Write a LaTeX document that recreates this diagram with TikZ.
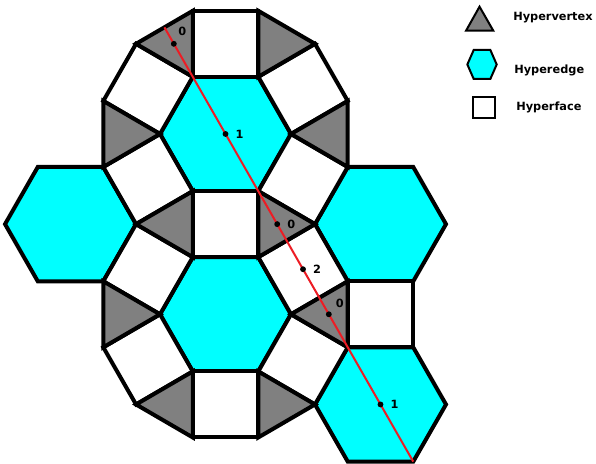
\documentclass[tikz,border=0pt]{standalone}
\usepackage{fontspec}
\setsansfont{DejaVu Sans}
\usepackage{tikz}
\usepackage{xcolor}
\definecolor{edgecyan}{RGB}{0, 255, 255}
\definecolor{vertexgray}{RGB}{128, 128, 128}
\definecolor{pathred}{RGB}{237, 28, 36}

\begin{document}
\begin{tikzpicture}[x=49.125pt, y=49.5pt,
    tile/.style={draw=black, line width=3pt},
    hyperedge/.style={tile, fill=edgecyan},
    hyperface/.style={tile, fill=white},
    hypervertex/.style={tile, fill=vertexgray},
    legendshape/.style={draw=black, line width=1.5pt},
    legendtext/.style={font=\sffamily\bfseries\fontsize{8.5}{10}\selectfont, anchor=base west, inner sep=0pt},
    pathdot/.style={circle, fill=black, inner sep=0pt, minimum size=4.4pt},
    numlabel/.style={font=\sffamily\bfseries\fontsize{8.5}{10}\selectfont, inner sep=1pt}]

  \useasboundingbox (-3.443, 2.030) rectangle (5.656, -5.0);

  % Hexagons (hyperedges)
  \foreach \cx/\cy in {0/0, 0/-2.732, -2.366/-1.366, 2.366/-1.366, 2.366/-4.098}
    \draw[hyperedge, shift={(\cx,\cy)}] (0:1) -- (60:1) -- (120:1) -- (180:1) -- (240:1) -- (300:1) -- cycle;

  % Squares (hyperfaces)
  \draw[hyperface] (-0.5, 0.866) -- (0.5, 0.866) -- (0.5, 1.866) -- (-0.5, 1.866) -- cycle;
  \draw[hyperface] (-1, 0) -- (-0.5, 0.866) -- (-1.366, 1.366) -- (-1.866, 0.5) -- cycle;
  \draw[hyperface] (1, 0) -- (0.5, 0.866) -- (1.366, 1.366) -- (1.866, 0.5) -- cycle;
  \draw[hyperface] (-1, 0) -- (-0.5, -0.866) -- (-1.366, -1.366) -- (-1.866, -0.5) -- cycle;
  \draw[hyperface] (1, 0) -- (0.5, -0.866) -- (1.366, -1.366) -- (1.866, -0.5) -- cycle;
  \draw[hyperface] (-0.5, -0.866) -- (0.5, -0.866) -- (0.5, -1.866) -- (-0.5, -1.866) -- cycle;
  \draw[hyperface] (-0.5, -1.866) -- (-1, -2.732) -- (-1.866, -2.232) -- (-1.366, -1.366) -- cycle;
  \draw[hyperface] (0.5, -1.866) -- (1, -2.732) -- (1.866, -2.232) -- (1.366, -1.366) -- cycle;
  \draw[hyperface] (-1, -2.732) -- (-0.5, -3.598) -- (-1.366, -4.098) -- (-1.866, -3.232) -- cycle;
  \draw[hyperface] (1, -2.732) -- (0.5, -3.598) -- (1.366, -4.098) -- (1.866, -3.232) -- cycle;
  \draw[hyperface] (-0.5, -3.598) -- (0.5, -3.598) -- (0.5, -4.598) -- (-0.5, -4.598) -- cycle;
  \draw[hyperface] (1.866, -2.232) -- (2.866, -2.232) -- (2.866, -3.232) -- (1.866, -3.232) -- cycle;

  % Triangles (hypervertices)
  \draw[hypervertex] (-0.5, 0.866) -- (-0.5, 1.866) -- (-1.366, 1.366) -- cycle;
  \draw[hypervertex] (0.5, 0.866) -- (0.5, 1.866) -- (1.366, 1.366) -- cycle;
  \draw[hypervertex] (-1, 0) -- (-1.866, 0.5) -- (-1.866, -0.5) -- cycle;
  \draw[hypervertex] (1, 0) -- (1.866, 0.5) -- (1.866, -0.5) -- cycle;
  \draw[hypervertex] (-0.5, -0.866) -- (-0.5, -1.866) -- (-1.366, -1.366) -- cycle;
  \draw[hypervertex] (0.5, -0.866) -- (0.5, -1.866) -- (1.366, -1.366) -- cycle;
  \draw[hypervertex] (-1, -2.732) -- (-1.866, -2.232) -- (-1.866, -3.232) -- cycle;
  \draw[hypervertex] (1, -2.732) -- (1.866, -2.232) -- (1.866, -3.232) -- cycle;
  \draw[hypervertex] (-0.5, -3.598) -- (-0.5, -4.598) -- (-1.366, -4.098) -- cycle;
  \draw[hypervertex] (0.5, -3.598) -- (0.5, -4.598) -- (1.366, -4.098) -- cycle;

  % Red path across the tiling
  \coordinate (pathstart) at (-0.933, 1.616);
  \coordinate (pathend) at (2.866, -4.964);
  \draw[pathred, line width=1.5pt] (pathstart) -- (pathend);

  % Points on the path with their dimensions
  \node[pathdot, label={[numlabel, label distance=3pt]65:0}] (vtxtop) at (-0.789, 1.366) {};
  \node[pathdot, label={[numlabel, label distance=4pt]right:1}] (edgetop) at (0, 0) {};
  \node[pathdot, label={[numlabel, label distance=4pt]right:0}] (vtxmid) at (0.789, -1.366) {};
  \node[pathdot, label={[numlabel, label distance=4pt]right:2}] (facemid) at (1.183, -2.049) {};
  \node[pathdot, label={[numlabel, label distance=3pt]40:0}] (vtxlow) at (1.577, -2.732) {};
  \node[pathdot, label={[numlabel, label distance=4pt]right:1}] (edgelow) at (2.366, -4.098) {};

  % Legend
  \draw[legendshape, fill=vertexgray] (3.672, 1.565) -- (3.878, 1.929) -- (4.088, 1.565) -- cycle;
  \draw[legendshape, fill=edgecyan, shift={(3.916, 1.053)}] (0.224, 0) -- (0.127, 0.22) -- (-0.127, 0.22) -- (-0.224, 0) -- (-0.127, -0.22) -- (0.127, -0.22) -- cycle;
  \draw[legendshape, fill=white] (3.774, 0.238) rectangle (4.115, 0.565);
  \node[legendtext] (legvertex) at (4.389, 1.717) {Hypervertex};
  \node[legendtext] (legedge) at (4.405, 0.909) {Hyperedge};
  \node[legendtext] (legface) at (4.435, 0.353) {Hyperface};

\end{tikzpicture}
\end{document}
